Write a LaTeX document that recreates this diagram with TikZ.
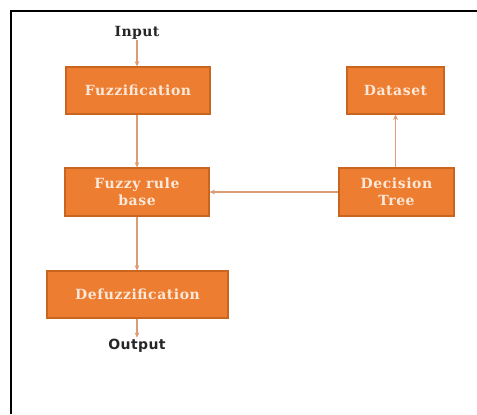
\documentclass[tikz,border=0pt]{standalone}
\usepackage{fontspec}
\newfontfamily\boxfont[LetterSpace=4]{DejaVu Serif}
\newfontfamily\infont[LetterSpace=3]{DejaVu Serif}
\newfontfamily\outfont[LetterSpace=3]{DejaVu Sans}
\usetikzlibrary{arrows.meta}
\definecolor{boxfill}{HTML}{ED7D31}
\definecolor{boxline}{HTML}{C9651F}
\definecolor{arrowc}{HTML}{DE9C74}
\definecolor{boxtext}{HTML}{FBE8D8}
\tikzset{
  blk/.style={draw=boxline, line width=0.8pt, fill=boxfill, text=boxtext,
    font=\boxfont\bfseries\fontsize{10.5}{12.5}\selectfont, align=center, inner sep=0pt},
  conn/.style={draw=arrowc, line width=1pt, -{Stealth[length=4pt,width=3.5pt]}},
  lbl/.style={inner sep=0pt, text=black!85}
}
\begin{document}
\begin{tikzpicture}[x=0.75pt,y=-0.75pt]
\useasboundingbox (0,0) rectangle (477,414);
\draw[line width=1.6pt, black] (11,414) -- (11,11) -- (477,11);
\node[blk, minimum width=108pt, minimum height=35.25pt] (fuzz) at (138,90.5) {Fuzzification};
\node[blk, minimum width=72.75pt, minimum height=35.25pt] (data) at (395.5,90.5) {Dataset};
\node[blk, minimum width=108pt, minimum height=36pt] (rule) at (137,192) {Fuzzy rule\\base};
\node[blk, minimum width=86.25pt, minimum height=36pt] (tree) at (396.5,192) {Decision\\Tree};
\node[blk, minimum width=135.75pt, minimum height=35.25pt] (defuzz) at (137.5,294.5) {Defuzzification};
\node[lbl, font=\infont\bfseries\fontsize{10.5}{12}\selectfont] (in) at (137,33) {Input};
\node[lbl, font=\outfont\bfseries\fontsize{10.5}{12}\selectfont] (out) at (137,346) {Output};
\draw[conn] (in.south) -- (in.south |- fuzz.north);
\draw[conn] (fuzz.south -| rule.north) -- (rule.north);
\draw[conn] (tree.west) -- (rule.east);
\draw[conn] (tree.north -| data.south) -- (data.south);
\draw[conn] (rule.south) -- (rule.south |- defuzz.north);
\draw[conn] (defuzz.south -| out.north) -- ([yshift=1pt]out.north);
\end{tikzpicture}
\end{document}
